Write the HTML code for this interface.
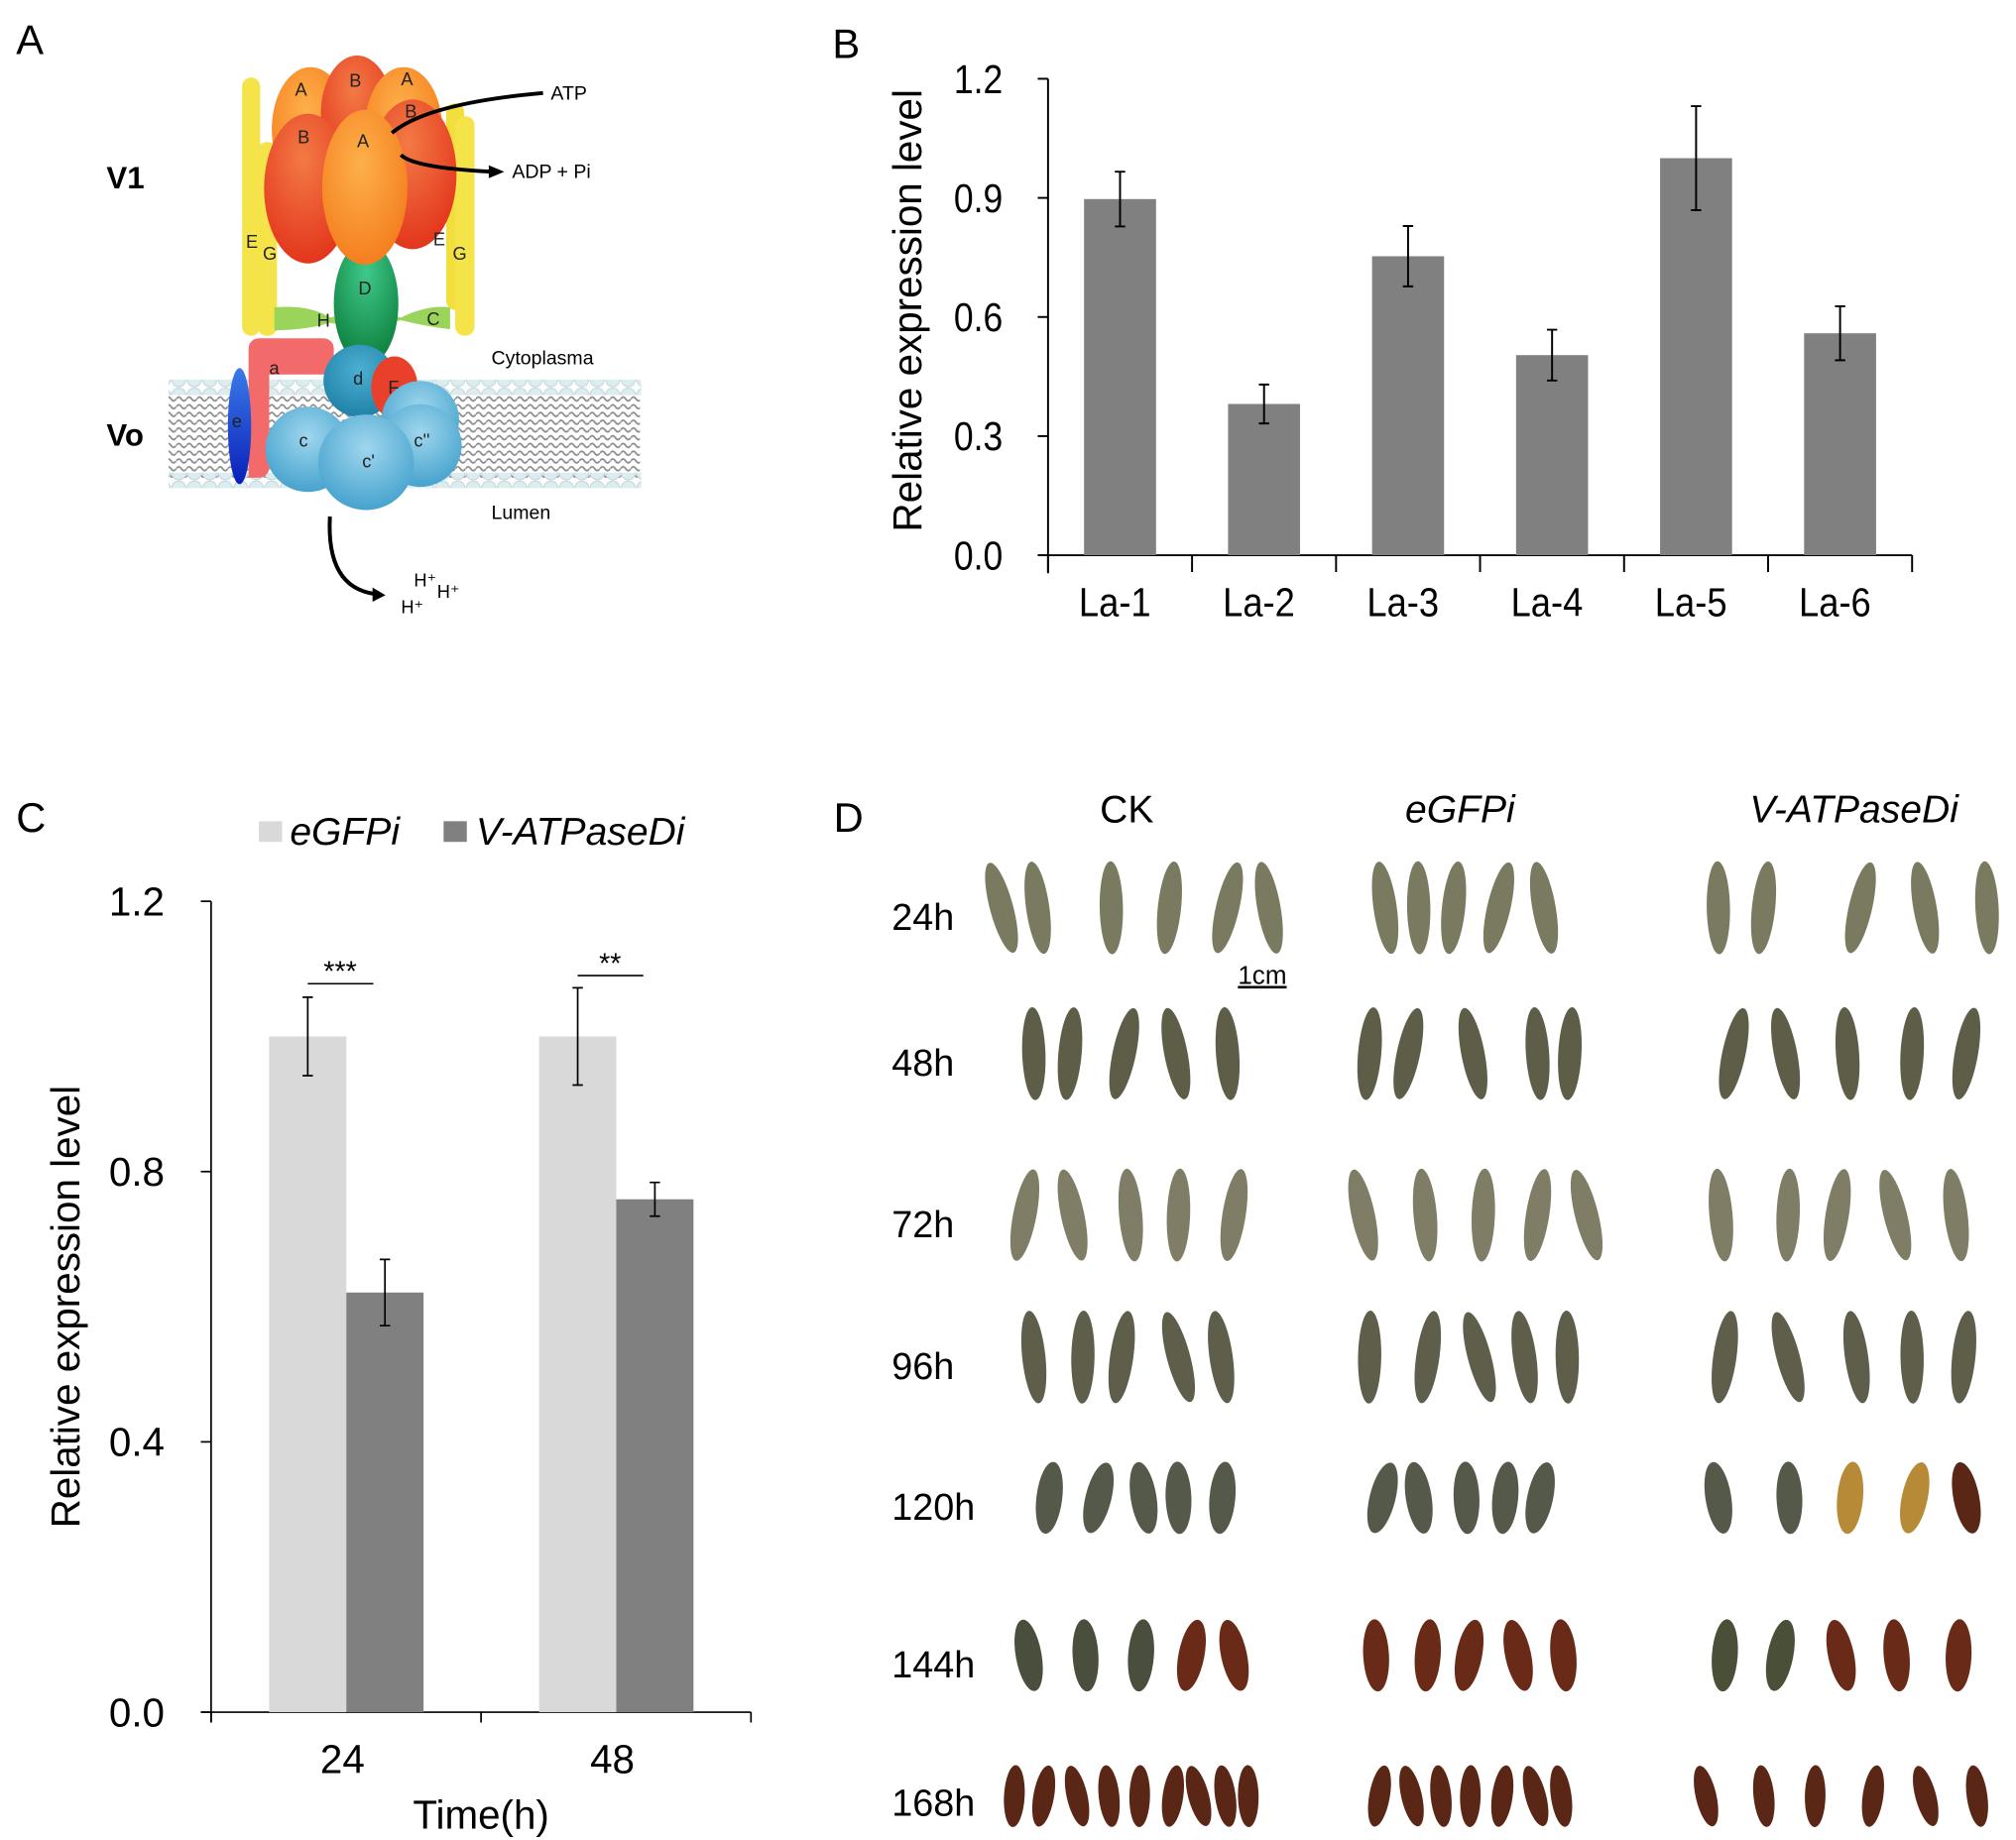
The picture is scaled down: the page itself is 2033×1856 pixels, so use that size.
<!DOCTYPE html>
<html><head><meta charset="utf-8"><style>
html,body{margin:0;padding:0;background:#fff}
svg{display:block}
text{font-family:"Liberation Sans",Arial,sans-serif}
</style></head><body>
<svg id="fig" width="2033" height="1856" viewBox="0 0 1560 1425" xmlns="http://www.w3.org/2000/svg">
<defs>
<radialGradient id="gOr" cx="0.45" cy="0.35" r="0.7"><stop offset="0" stop-color="#fdb04a"/><stop offset="1" stop-color="#f47b1c"/></radialGradient>
<radialGradient id="gRd" cx="0.45" cy="0.3" r="0.75"><stop offset="0" stop-color="#f37a45"/><stop offset="1" stop-color="#e2311a"/></radialGradient>
<radialGradient id="gGr" cx="0.5" cy="0.25" r="0.8"><stop offset="0" stop-color="#3ec98a"/><stop offset="1" stop-color="#0a7a37"/></radialGradient>
<radialGradient id="gBl" cx="0.5" cy="0.35" r="0.7"><stop offset="0" stop-color="#9fd6ee"/><stop offset="1" stop-color="#3f9fcb"/></radialGradient>
<radialGradient id="gBd" cx="0.5" cy="0.35" r="0.7"><stop offset="0" stop-color="#4cb0d2"/><stop offset="1" stop-color="#1e7ea4"/></radialGradient>
<linearGradient id="gE" x1="0" y1="0" x2="0" y2="1"><stop offset="0" stop-color="#3a7bea"/><stop offset="1" stop-color="#0a1fb8"/></linearGradient>
<pattern id="lip" width="8" height="6" patternUnits="userSpaceOnUse"><path d="M0 3 Q2 0 4 3 T8 3" stroke="#8a8a8a" stroke-width="1.3" fill="none"/></pattern>
<pattern id="bead" width="12" height="12" patternUnits="userSpaceOnUse"><circle cx="6" cy="6" r="5.5" fill="#dcecef" stroke="#c4d8dc" stroke-width="0.8"/></pattern>
</defs>

<text x="12" y="42" font-size="32">A</text>
<text x="644" y="45" font-size="32">B</text>
<text x="12" y="644" font-size="32">C</text>
<text x="645" y="644" font-size="32">D</text>

<g id="diagram">
<rect x="130" y="304" width="365" height="66" fill="url(#lip)"/>
<rect x="130" y="294" width="366" height="12" fill="url(#bead)"/>
<rect x="130" y="366" width="366" height="12" fill="url(#bead)"/>
<rect x="187" y="60" width="14" height="200" rx="7" fill="#f4e44a"/>
<rect x="345" y="80" width="14" height="160" rx="7" fill="#f2de3c"/>
<rect x="352" y="90" width="15" height="170" rx="7" fill="#f4e44a"/>
<rect x="199" y="110" width="15" height="150" rx="7" fill="#f4e44a"/>
<path d="M212 238 Q240 236 255 246 Q282 238 310 246 Q330 236 348 238 L348 255 Q330 253 310 248 Q282 255 255 250 Q240 255 212 256Z" fill="#9bd45a"/>
<ellipse cx="240" cy="100" rx="30" ry="48" fill="url(#gOr)"/>
<ellipse cx="276" cy="88" rx="28" ry="45" fill="url(#gRd)"/>
<ellipse cx="312" cy="100" rx="30" ry="48" fill="url(#gOr)"/>
<ellipse cx="238" cy="146" rx="34" ry="58" fill="url(#gRd)"/>
<ellipse cx="319" cy="135" rx="34" ry="58" fill="url(#gRd)"/>
<ellipse cx="283" cy="235" rx="25" ry="48" fill="url(#gGr)"/>
<ellipse cx="282" cy="145" rx="33" ry="60" fill="url(#gOr)"/>
<path d="M200 262 h50 a8 8 0 0 1 8 8 v20 h-50 v72 a8 8 0 0 1 -8 8 h-8 v-100 a8 8 0 0 1 8 -8z" fill="#f26a6a"/>
<ellipse cx="185" cy="330" rx="9" ry="45" fill="url(#gE)"/>
<circle cx="278" cy="295" r="28" fill="url(#gBd)"/>
<ellipse cx="305" cy="300" rx="18" ry="24" fill="#e8402a"/>
<circle cx="325" cy="325" r="30" fill="url(#gBl)"/>
<circle cx="238" cy="348" r="33" fill="url(#gBl)"/>
<circle cx="325" cy="345" r="32" fill="url(#gBl)"/>
<circle cx="283" cy="358" r="37" fill="url(#gBl)"/>
<g font-size="14" fill="#222">
<text x="228" y="74">A</text><text x="270" y="67">B</text><text x="310" y="66">A</text><text x="313" y="91">B</text>
<text x="230" y="111">B</text><text x="276" y="114">A</text>
<text x="190" y="192">E</text><text x="203" y="201">G</text><text x="335" y="190">E</text><text x="350" y="201">G</text>
<text x="277" y="228">D</text><text x="245" y="253">H</text><text x="330" y="252">C</text>
<text x="208" y="290">a</text><text x="273" y="298">d</text><text x="300" y="305">F</text>
<text x="179" y="331">e</text><text x="231" y="346">c</text><text x="280" y="362">c'</text><text x="320" y="346">c''</text>
</g>
<path d="M303 103 Q330 80 420 72" stroke="#000" stroke-width="3" fill="none"/>
<path d="M310 120 Q320 130 380 133" stroke="#000" stroke-width="3" fill="none"/>
<path d="M378 128 L390 133 L378 138Z" fill="#000"/>
<path d="M255 400 Q252 455 290 460" stroke="#000" stroke-width="3" fill="none"/>
<path d="M288 455 L298 461 L288 466Z" fill="#000"/>
<text x="426" y="77" font-size="15">ATP</text>
<text x="396" y="138" font-size="15">ADP + Pi</text>
<text x="380" y="282" font-size="15">Cytoplasma</text>
<text x="380" y="402" font-size="15">Lumen</text>
<text x="320" y="454" font-size="14">H⁺</text>
<text x="338" y="463" font-size="14">H⁺</text>
<text x="310" y="475" font-size="14">H⁺</text>
<text x="82" y="146" font-size="24" font-weight="bold">V1</text>
<text x="82" y="345" font-size="24" font-weight="bold">Vo</text>
</g>

<g id="chartB"></g>
<g id="chartC"></g>
<g id="panelD"></g>
</svg>
<script>
// ---- Chart B data ----
const bCategories = ["La-1","La-2","La-3","La-4","La-5","La-6"];
const bValues = [0.897, 0.381, 0.753, 0.504, 1.0, 0.559];
const bErrors = [0.069, 0.049, 0.076, 0.064, 0.131, 0.068];
const bTicks = ["0.0","0.3","0.6","0.9","1.2"];
// ---- Chart C data ----
const cCategories = ["24","48"];
const cSeriesNames = ["eGFPi","V-ATPaseDi"];
const cEGFP = [1.0, 1.0];
const cEGFPErr = [0.058, 0.072];
const cVATP = [0.621, 0.759];
const cVATPErr = [0.049, 0.025];
const cSig = ["***","**"];
const cSigLevel = [1.078, 1.09];
const cTicks = ["0.0","0.4","0.8","1.2"];

const NS="http://www.w3.org/2000/svg";
function mk(tag, attrs, parent){const e=document.createElementNS(NS,tag);for(const k in attrs)e.setAttribute(k,attrs[k]);parent.appendChild(e);return e;}

(function(){
 const g=document.getElementById('chartB');
 const x0=811,x1=1480,yb=430,yt=61,max=1.2;
 const y=v=>yb-(v/max)*(yb-yt);
 const cw=(x1-x0)/bCategories.length;
 const bx=i=>x0+i*cw;
 let ax=mk('line',{x1:x0,y1:yt,x2:x0,y2:yb+14,stroke:'#000','stroke-width':1.5},g);
 
 
 let xa=mk('line',{x1:x0-8,y1:yb,x2:x1,y2:yb,stroke:'#000','stroke-width':1.5},g);
 
 
 bTicks.forEach(t=>{const v=parseFloat(t);const yy=y(v);
  mk('line',{x1:x0-8,y1:yy,x2:x0,y2:yy,stroke:'#000','stroke-width':1.5},g);
  const tx=mk('text',{x:0,y:0,'font-size':31,'text-anchor':'end',transform:`translate(${x0-35},${yy+11}) scale(0.88,1)`},g);
  tx.textContent=t;
  
  
 });
 for(let i=0;i<=bCategories.length;i++){mk('line',{x1:bx(i),y1:yb,x2:bx(i),y2:yb+13,stroke:'#000','stroke-width':1.5},g);}
 bCategories.forEach((c,i)=>{
  const bw=cw*0.5, left=bx(i)+(cw-bw)/2, cx=bx(i)+cw/2;
  const r=mk('rect',{x:left,y:y(bValues[i]),width:bw,height:yb-y(bValues[i]),fill:'#808080'},g);
  
  
  const e=mk('path',{d:`M${cx} ${y(bValues[i]+bErrors[i])} V${y(bValues[i]-bErrors[i])} M${cx-4} ${y(bValues[i]+bErrors[i])} h8 M${cx-4} ${y(bValues[i]-bErrors[i])} h8`,stroke:'#000','stroke-width':1.5,fill:'none'},g);
  
  
  const t=mk('text',{x:0,y:0,'font-size':31,'text-anchor':'middle',transform:`translate(${cx-4},${yb+47}) scale(0.9,1)`},g);
  t.textContent=c;
  
  
 });
 const tt=mk('text',{x:0,y:0,'font-size':31,'text-anchor':'middle',transform:`translate(713,${(yt+yb)/2-5}) rotate(-90)`},g);
 tt.textContent='Relative expression level';
 
 
})();

(function(){
 const g=document.getElementById('chartC');
 const x0=163,x1=581,yb=1326,yt=698,max=1.2;
 const y=v=>yb-(v/max)*(yb-yt);
 const cw=(x1-x0)/cCategories.length;
 let ax=mk('line',{x1:x0,y1:yt,x2:x0,y2:yb+8,stroke:'#000','stroke-width':1.3},g);
 
 
 let xa=mk('line',{x1:x0-8,y1:yb,x2:x1,y2:yb,stroke:'#000','stroke-width':1.3},g);
 
 
 cTicks.forEach(t=>{const yy=y(parseFloat(t));
  mk('line',{x1:x0-8,y1:yy,x2:x0,y2:yy,stroke:'#000','stroke-width':1.3},g);
  const tx=mk('text',{x:x0-36,y:yy+11,'font-size':31,'text-anchor':'end'},g);
  tx.textContent=t;
  
  
 });
 for(let i=0;i<=cCategories.length;i++){mk('line',{x1:x0+i*cw,y1:yb,x2:x0+i*cw,y2:yb+8,stroke:'#000','stroke-width':1.3},g);}
 const bw=cw*0.286, off=cw*0.215;
 function err(cx,v,e){const p=mk('path',{d:`M${cx} ${y(v+e)} V${y(v-e)} M${cx-4} ${y(v+e)} h8 M${cx-4} ${y(v-e)} h8`,stroke:'#000','stroke-width':1.3,fill:'none'},g);
  
  }
 cCategories.forEach((c,i)=>{
  const l=x0+i*cw+off;
  const r1=mk('rect',{x:l,y:y(cEGFP[i]),width:bw,height:yb-y(cEGFP[i]),fill:'#d9d9d9'},g);
  
  
  const r2=mk('rect',{x:l+bw,y:y(cVATP[i]),width:bw,height:yb-y(cVATP[i]),fill:'#808080'},g);
  
  
  err(l+bw/2,cEGFP[i],cEGFPErr[i]);
  err(l+bw*1.5,cVATP[i],cVATPErr[i]);
  const sy=y(cSigLevel[i]);
  const sl=mk('line',{x1:l+bw/2,y1:sy,x2:l+bw*1.35,y2:sy,stroke:'#000','stroke-width':1.2},g);
  
  
  const st=mk('text',{x:l+bw*0.92,y:sy-2,'font-size':22,'text-anchor':'middle'},g);
  st.textContent=cSig[i];
  
  
  const t=mk('text',{x:l+bw-3,y:yb+47,'font-size':31,'text-anchor':'middle'},g);
  t.textContent=c;
  
  
 });
 const xt=mk('text',{x:(x0+x1)/2,y:1416,'font-size':31,'text-anchor':'middle'},g);
 xt.textContent='Time(h)';
 
 
 const yt2=mk('text',{x:0,y:0,'font-size':31,'text-anchor':'middle',transform:`translate(61,1012) rotate(-90)`},g);
 yt2.textContent='Relative expression level';
 
 
 const lx=[200,343], tx=[224,368], fills=['#d9d9d9','#808080'];
 cSeriesNames.forEach((n,i)=>{
  const s=mk('rect',{x:lx[i],y:636,width:18,height:16,fill:fills[i]},g);
  
  
  const t=mk('text',{x:tx[i],y:654,'font-size':30,'font-style':'italic'},g);
  t.textContent=n;
  
  
 });
})();

(function(){
 const g=document.getElementById('panelD');
 const heads=[["CK",872,false],["eGFPi",1130,true],["V-ATPaseDi",1435,true]];
 heads.forEach(h=>{const t=mk('text',{x:h[1],y:637,'font-size':30,'text-anchor':'middle','font-style':h[2]?'italic':'normal'},g);
  t.textContent=h[0];
  
  });
 const rows=[["24h",709],["48h",822],["72h",947],["96h",1057],["120h",1166],["144h",1288],["168h",1395]];
 const groups=[
  [[775,803,860,905,950,982],[1072,1098,1125,1160,1195],[1330,1365,1440,1490,1538]],
  [[800,828,870,910,950],[1060,1090,1140,1190,1215],[1342,1382,1430,1480,1522]],
  [[793,830,875,912,955],[1055,1103,1148,1190,1228],[1332,1384,1422,1467,1514]],
  [[800,838,868,912,945],[1060,1105,1145,1180,1213],[1335,1384,1437,1480,1520]],
  [[812,850,885,912,946],[1070,1098,1135,1165,1192],[1330,1385,1432,1482,1522]],
  [[796,840,883,922,955],[1065,1105,1137,1175,1210],[1335,1378,1425,1468,1516]],
  [[785,808,833,858,882,908,927,948,966],[1068,1092,1115,1138,1163,1188,1208],[1320,1365,1405,1450,1490,1530]]
 ];
 const col=['#7a7a60','#5e5e48','#7f7d66','#5e5e4a','#55594a','#4a4e3c','#5a2616'];
 rows.forEach((r,ri)=>{
  const t=mk('text',{x:690,y:r[1]+11,'font-size':29},g);
  t.textContent=r[0];
  
  
  groups[ri].forEach((xs,gi)=>{
   xs.forEach((x,k)=>{
    let c=col[ri];
    if(ri===5){c=(gi===0&&k<3)?'#4a4e3c':(gi===2&&k<2?'#4a5038':'#6a2a18');}
    if(ri===4&&gi===2&&k>=2)c=k===4?'#5a2616':'#b78a38';
    const ry=ri===6?24:(ri>=4?28:36);
    const rx=ri===6?8:(ri>=4?10:9);
    const rot=((k*37+ri*13+gi*7)%30)-15;
    const e=mk('ellipse',{cx:x,cy:r[1]+(ri===6?-4:-6),rx:rx,ry:ry,fill:c,transform:`rotate(${rot} ${x} ${r[1]-6})`},g);
    
    
   });
  });
 });
 const s=mk('text',{x:958,y:762,'font-size':20,'text-decoration':'underline'},g);
 s.textContent='1cm';
 
 
})();
</script>
</body></html>
